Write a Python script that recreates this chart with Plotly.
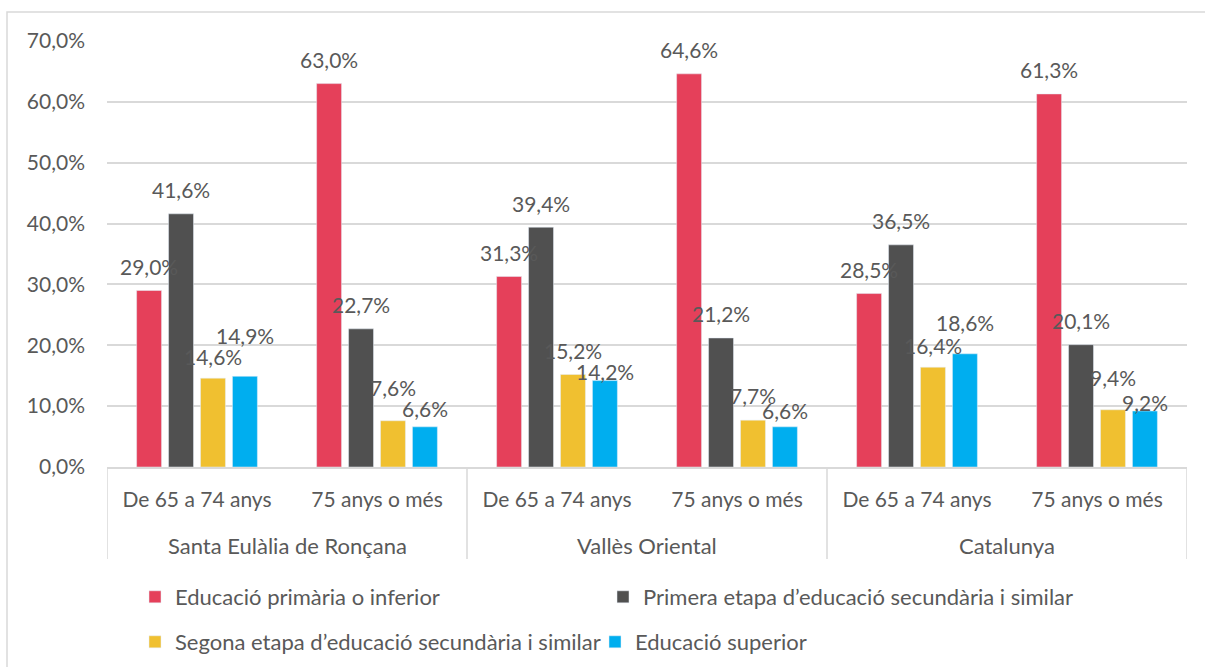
import plotly.graph_objects as go

regions = ["Santa Eulàlia de Ronçana", "Santa Eulàlia de Ronçana",
           "Vallès Oriental", "Vallès Oriental",
           "Catalunya", "Catalunya"]
ages = ["De 65 a 74 anys", "75 anys o més"] * 3

series_names = [
    "Educació primària o inferior",
    "Primera etapa d’educació secundària i similar",
    "Segona etapa d’educació secundària i similar",
    "Educació superior",
]
primaria = [29.0, 63.0, 31.3, 64.6, 28.5, 61.3]
primera_etapa = [41.6, 22.7, 39.4, 21.2, 36.5, 20.1]
segona_etapa = [14.6, 7.6, 15.2, 7.7, 16.4, 9.4]
superior = [14.9, 6.6, 14.2, 6.6, 18.6, 9.2]
series_values = [primaria, primera_etapa, segona_etapa, superior]
colors = ["#E5405A", "#505050", "#F0C030", "#00AEEF"]

FONT = "Lato"
TXT = "#595959"
GRID = "#D9D9D9"
BARGAP = 0.29
BARGROUPGAP = 0.22
LABEL_SHIFT = 24
# (series index, category index): extra pixel shift (dx, dy) of hand-moved labels
label_nudges = {
    (2, 0): (0, -2), (2, 1): (0, 9), (2, 3): (0, 1), (2, 4): (0, -2), (2, 5): (0, 8),
    (3, 0): (0, 17), (3, 1): (0, -6), (3, 2): (0, -15), (3, 3): (0, -8),
    (3, 4): (0, 7), (3, 5): (0, -15),
}
# legend placement (container pixels): one legend per entry, Excel-like 2x2 layout
legend_pos = [(135, 597), (603, 597), (135, 642), (595, 642)]

pos = list(range(len(ages)))
W, H = 1205, 667

fig = go.Figure()
legend_ids = ["legend"] + [f"legend{k}" for k in range(2, len(series_names) + 1)]
for name, vals, col, lg in zip(series_names, series_values, colors, legend_ids):
    fig.add_trace(go.Bar(x=pos, y=vals, name=name, marker_color=col,
                         legend=lg, showlegend=True, customdata=ages,
                         hovertemplate="%{customdata}: %{y:.1f}%<extra>" + name + "</extra>"))

annotations = []
n = len(series_names)
slot = (1 - BARGAP) / n
for j, vals in enumerate(series_values):
    for i, v in enumerate(vals):
        dx, dy = label_nudges.get((j, i), (0, 0))
        annotations.append(dict(
            x=pos[i] + (j - (n - 1) / 2) * slot, y=v, xref="x", yref="y",
            text=f"{v:.1f}%".replace(".", ","), showarrow=False,
            yanchor="middle", yshift=LABEL_SHIFT + dy, xshift=dx,
            font=dict(family=FONT, size=21, color=TXT)))

# region (second level) labels and dividers
groups = []
for i, r in enumerate(regions):
    if groups and groups[-1][0] == r:
        groups[-1][2] = i
    else:
        groups.append([r, i, i])
shapes = []
bounds = [groups[0][1] - 0.5] + [g[2] + 0.5 for g in groups]
for b in bounds:
    shapes.append(dict(type="line", xref="x", yref="paper", x0=b, x1=b,
                       ysizemode="pixel", yanchor=0, y0=0, y1=-92,
                       line=dict(color=GRID, width=1.5)))
for r, a, b in groups:
    annotations.append(dict(x=(pos[a] + pos[b]) / 2, y=0, xref="x", yref="paper",
                            yshift=-78, yanchor="middle", text=r, showarrow=False,
                            font=dict(family=FONT, size=22, color=TXT)))

shapes.append(dict(type="rect", xref="paper", yref="paper",
                   x0=-100 / 1080, x1=1200 / 1080, y0=-210 / 426, y1=1 + 29 / 426,
                   line=dict(color=GRID, width=1.5), layer="below"))

legend_layout = {}
for lg, (lx, ly) in zip(legend_ids, legend_pos):
    legend_layout[lg] = dict(orientation="h", xref="container", yref="container",
                             x=lx / W, xanchor="left", y=1 - ly / H, yanchor="middle",
                             bgcolor="rgba(0,0,0,0)", visible=True,
                             font=dict(family=FONT, size=22, color=TXT))

fig.update_layout(
    width=W, height=H, showlegend=True,
    margin=dict(l=107, r=18, t=41, b=200, autoexpand=False),
    paper_bgcolor="white", plot_bgcolor="white",
    font=dict(family=FONT, size=20, color=TXT),
    separators=",.",
    barmode="group", bargap=BARGAP, bargroupgap=BARGROUPGAP,
    shapes=shapes, annotations=annotations,
    **legend_layout,
)
fig.update_xaxes(range=[-0.5, len(ages) - 0.5], tickvals=pos, ticktext=ages,
                 showline=True, linecolor=GRID, linewidth=1.5, showgrid=False,
                 zeroline=False, ticks="", ticklabelstandoff=13,
                 tickfont=dict(family=FONT, size=21, color=TXT))
fig.update_yaxes(range=[0, 70], dtick=10, tickformat=".1f", ticksuffix="%",
                 showgrid=True, gridcolor=GRID, gridwidth=1.5, zeroline=False,
                 showline=False, ticklabelstandoff=21,
                 tickfont=dict(family=FONT, size=21, color=TXT))

fig.write_html("out.html", config={"displayModeBar": False},
               post_script="document.body.style.margin='0';")
